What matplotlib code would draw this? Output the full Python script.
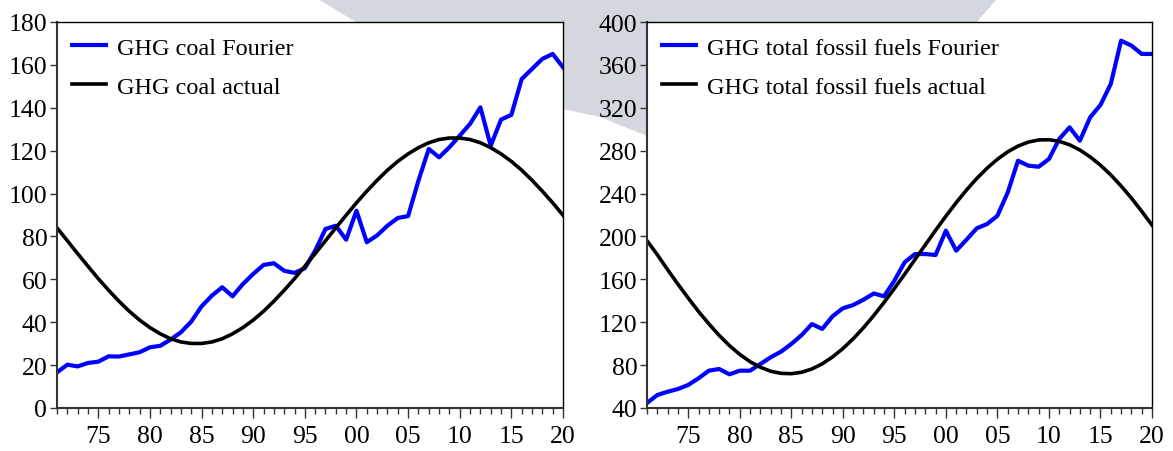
import matplotlib
matplotlib.use("Agg")
import matplotlib.pyplot as plt
from matplotlib.patches import Polygon
from matplotlib.ticker import MultipleLocator, FixedLocator

plt.rcParams["font.family"] = ["Liberation Serif", "DejaVu Serif"]

years = list(range(1971, 2021))

coal_fourier = [16.6, 20.2, 19.4, 21.0, 21.6, 24.1, 24.0, 25.0, 26.0, 28.3,
                29.0, 31.9, 35.3, 40.3, 47.4, 52.4, 56.3, 52.1, 57.8, 62.5,
                66.7, 67.5, 64.0, 63.0, 65.2, 73.4, 83.5, 85.0, 78.5, 92.0,
                77.3, 80.5, 85.0, 88.6, 89.5, 106.0, 120.8, 116.9, 121.6, 127.0,
                132.5, 140.2, 122.3, 134.5, 136.7, 153.4, 158.1, 162.8, 165.1, 158.9]
coal_actual = [84.0, 78.0, 72.0, 66.1, 60.3, 54.9, 49.8, 45.1, 41.0, 37.5,
               34.6, 32.3, 30.8, 30.1, 30.1, 30.8, 32.3, 34.6, 37.5, 41.0,
               45.1, 49.8, 54.9, 60.3, 66.1, 72.0, 78.0, 84.0, 89.9, 95.7,
               101.1, 106.2, 110.9, 115.0, 118.5, 121.4, 123.7, 125.2, 125.9, 125.9,
               125.2, 123.7, 121.4, 118.5, 115.0, 110.9, 106.2, 101.1, 95.7, 89.9]

total_fourier = [44.7, 52.1, 55.2, 57.7, 61.5, 67.7, 74.8, 76.4, 71.4, 74.8,
                 74.8, 81.0, 87.3, 92.5, 99.7, 108.0, 118.3, 113.7, 125.5, 133.0,
                 136.0, 141.0, 146.8, 144.2, 158.7, 175.9, 183.6, 183.6, 182.7, 205.4,
                 186.7, 197.0, 207.6, 211.6, 219.3, 241.0, 270.6, 266.0, 265.0, 272.2,
                 290.9, 301.8, 289.3, 311.1, 322.6, 342.2, 382.6, 378.0, 370.2, 370.2]
total_actual = [196.0, 183.0, 169.0, 155.5, 142.5, 130.0, 118.5, 107.8, 98.2, 90.0,
                83.2, 78.0, 74.3, 72.3, 72.0, 73.3, 76.4, 81.2, 87.6, 95.4,
                104.5, 114.8, 126.2, 138.5, 151.4, 164.8, 178.4, 192.1, 205.7, 218.9,
                231.5, 243.3, 254.1, 263.7, 272.0, 278.9, 284.3, 288.0, 290.0, 290.2,
                288.7, 285.5, 280.6, 274.2, 266.5, 257.4, 247.1, 235.8, 223.5, 210.6]

xtick_years = [1975, 1980, 1985, 1990, 1995, 2000, 2005, 2010, 2015, 2020]
xtick_labels = ["75", "80", "85", "90", "95", "00", "05", "10", "15", "20"]

W, H = 1173, 452
fig = plt.figure(figsize=(W / 100, H / 100), dpi=100)

# faint grey watermark shape behind the charts
wm = [(318, 0), (997, 0), (975, 25), (900, 110), (860, 130), (647, 137),
      (600, 118), (563, 110), (520, 100), (400, 50)]
fig.patches.append(Polygon([(x / W, 1 - y / H) for x, y in wm], closed=True,
                           transform=fig.transFigure, facecolor="#d5d7de",
                           edgecolor="none", zorder=-5))

ax1 = fig.add_axes([57 / W, 1 - 409 / H, (563 - 57) / W, (409 - 23) / H])
ax2 = fig.add_axes([647 / W, 1 - 409 / H, (1152 - 647) / W, (409 - 23) / H])


def style(ax, ylim, ystep):
    ax.set_zorder(2)
    ax.set_facecolor("white")
    ax.set_xlim(1971, 2020)
    ax.set_ylim(*ylim)
    ax.yaxis.set_major_locator(MultipleLocator(ystep))
    ax.xaxis.set_major_locator(FixedLocator(xtick_years))
    ax.set_xticklabels(xtick_labels)
    ax.xaxis.set_minor_locator(MultipleLocator(1))
    ax.tick_params(axis="x", which="major", direction="out", length=7, width=1,
                   labelsize=18.5, pad=5, color="#333333")
    ax.tick_params(axis="x", which="minor", direction="out", length=4, width=1,
                   color="#333333")
    ax.tick_params(axis="y", direction="out", length=5, width=1, labelsize=18.5,
                   pad=2, color="#333333")
    for s in ax.spines.values():
        s.set_linewidth(1.0)
    ax.spines["left"].set_linewidth(1.5)
    ax.spines["bottom"].set_linewidth(1.5)
    ax.spines["left"].set_color("#333333")
    ax.spines["bottom"].set_color("#333333")


ax1.plot(years, coal_fourier, color="#0000ff", lw=3, label="GHG coal Fourier")
ax1.plot(years, coal_actual, color="black", lw=2.6, label="GHG coal actual")
style(ax1, (0, 180), 20)

ax2.plot(years, total_fourier, color="#0000ff", lw=3, label="GHG total fossil fuels Fourier")
ax2.plot(years, total_actual, color="black", lw=2.6, label="GHG total fossil fuels actual")
style(ax2, (40, 400), 40)

for ax in (ax1, ax2):
    ax.legend(loc="upper left", frameon=False, fontsize=17.5, handlelength=1.4,
              handletextpad=0.45, labelspacing=0.7, borderaxespad=0.3,
              borderpad=0.3)

fig.savefig("out.png", dpi=100)
